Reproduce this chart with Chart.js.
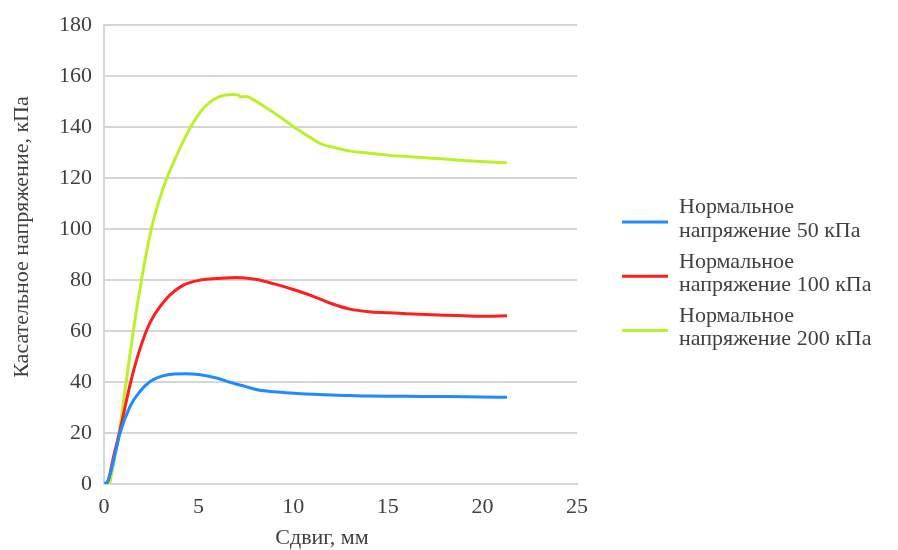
<!DOCTYPE html>
<html>
<head>
<meta charset="utf-8">
<script src="https://cdn.jsdelivr.net/npm/chart.js@4"></script>
<style>
  body { margin: 0; background: #fff; }
  #wrap { width: 898px; height: 550px; }
</style>
</head>
<body>
<div id="wrap"><canvas id="myChart" width="898" height="550"></canvas></div>
<script>
// shear displacement, mm / shear stress, kPa
const x50 = [0, 0.2, 0.5, 0.85, 1.38, 1.9, 2.44, 3.3, 4.3, 5.0, 6.0, 6.7, 7.5, 8.1, 9.0, 9.85, 11, 12, 13, 14, 16, 18, 20, 21.3];
const tau50 = [0, 1, 9, 20, 30.5, 36.3, 40.2, 42.8, 43.3, 43, 41.5, 39.8, 38.2, 37, 36.2, 35.7, 35.2, 34.9, 34.7, 34.5, 34.4, 34.3, 34.1, 34];

const x100 = [0, 0.2, 0.5, 0.81, 1.41, 1.9, 2.44, 3.3, 4.2, 5.1, 6.0, 7.0, 8.0, 9.0, 10.0, 11.0, 12.0, 13.0, 14.0, 15.0, 16.0, 17.0, 18.0, 19.0, 20.0, 21.3];
const tau100 = [0, 1, 10.6, 20, 40, 53, 63.4, 72.7, 78, 80, 80.6, 81, 80.3, 78.5, 76.3, 73.8, 70.8, 68.6, 67.6, 67.2, 66.8, 66.5, 66.2, 66, 65.8, 66];

const x200 = [0.3, 0.8, 1.17, 1.55, 1.98, 2.5, 2.9, 3.32, 4.0, 4.5, 5.1, 5.6, 6.1, 6.8, 7.1, 7.2, 7.5, 8, 8.6, 9.3, 10, 11, 11.5, 12, 13, 14, 15, 16, 17, 18, 19, 20, 21.3];
const tau200 = [0, 20, 40, 60, 80, 100, 111, 120, 131.5, 139, 146, 149.8, 152, 152.8, 152.6, 151.8, 152, 150.3, 147.5, 144, 140.3, 135.5, 133.3, 132.3, 130.6, 129.8, 129, 128.5, 128, 127.5, 126.9, 126.5, 126];

const seriesLabels = [
  ["Нормальное", "напряжение 50 кПа"],
  ["Нормальное", "напряжение 100 кПа"],
  ["Нормальное", "напряжение 200 кПа"]
];
const seriesColors = ["#1e8cff", "#ff1e1e", "#bcf02a"];

const xTitle = "Сдвиг, мм";
const yTitle = "Касательное напряжение, кПа";

function toPoints(xs, ys) {
  const pts = [];
  for (let i = 0; i < xs.length; i++) {
    pts.push({ x: xs[i], y: ys[i] });
  }
  return pts;
}

const textColor = "#404040";
const fontFamily = "'Liberation Serif', 'Times New Roman', serif";
const fontSize = 22;

// axis titles + legend on the right (two lines of text per entry)
const sideLegend = {
  id: "sideLegend",
  afterDraw(chart) {
    const ctx = chart.ctx;
    ctx.save();
    ctx.font = fontSize + "px " + fontFamily;
    ctx.fillStyle = textColor;

    // axis titles
    ctx.textAlign = "center";
    ctx.textBaseline = "middle";
    ctx.fillText(xTitle, 322, 538);
    ctx.save();
    ctx.translate(22, 237);
    ctx.rotate(-Math.PI / 2);
    ctx.fillText(yTitle, 0, 0);
    ctx.restore();

    // legend
    ctx.textAlign = "left";
    ctx.textBaseline = "alphabetic";
    chart.data.datasets.forEach((ds, i) => {
      const mid = 222 + i * 54.2;
      ctx.strokeStyle = ds.borderColor;
      ctx.lineWidth = 3;
      ctx.beginPath();
      ctx.moveTo(622, mid);
      ctx.lineTo(668, mid);
      ctx.stroke();
      const lines = seriesLabels[i];
      ctx.fillText(lines[0], 679, mid - 8.7);
      ctx.fillText(lines[1], 679, mid + 14.7);
    });
    ctx.restore();
  }
};

const ctx = document.getElementById("myChart").getContext("2d");
const myChart = new Chart(ctx, {
  type: "line",
  data: {
    datasets: [
      { label: seriesLabels[0].join(" "), data: toPoints(x50, tau50) },
      { label: seriesLabels[1].join(" "), data: toPoints(x100, tau100) },
      { label: seriesLabels[2].join(" "), data: toPoints(x200, tau200) }
    ].map((ds, i) => Object.assign(ds, {
      borderColor: seriesColors[i],
      backgroundColor: seriesColors[i],
      borderWidth: 3,
      pointRadius: 0,
      fill: false,
      cubicInterpolationMode: "monotone"
    }))
  },
  options: {
    responsive: false,
    animation: false,
    layout: { padding: { left: 0, right: 321, top: 25, bottom: 0 } },
    plugins: {
      legend: { display: false },
      tooltip: { enabled: false }
    },
    scales: {
      x: {
        type: "linear",
        min: 0,
        max: 25,
        ticks: {
          stepSize: 5,
          padding: 10,
          color: textColor,
          font: { family: fontFamily, size: fontSize }
        },
        grid: { display: false, drawTicks: false },
        border: { display: true, color: "#d6d6d6", width: 2 },
        afterFit(scale) { scale.height = 66; }
      },
      y: {
        min: 0,
        max: 180,
        ticks: {
          stepSize: 20,
          padding: 12,
          color: textColor,
          font: { family: fontFamily, size: fontSize }
        },
        grid: { color: "#d6d6d6", lineWidth: 2, drawTicks: false },
        border: { display: true, color: "#d6d6d6", width: 2 },
        afterFit(scale) { scale.width = 104; }
      }
    }
  },
  plugins: [sideLegend]
});
</script>
</body>
</html>
